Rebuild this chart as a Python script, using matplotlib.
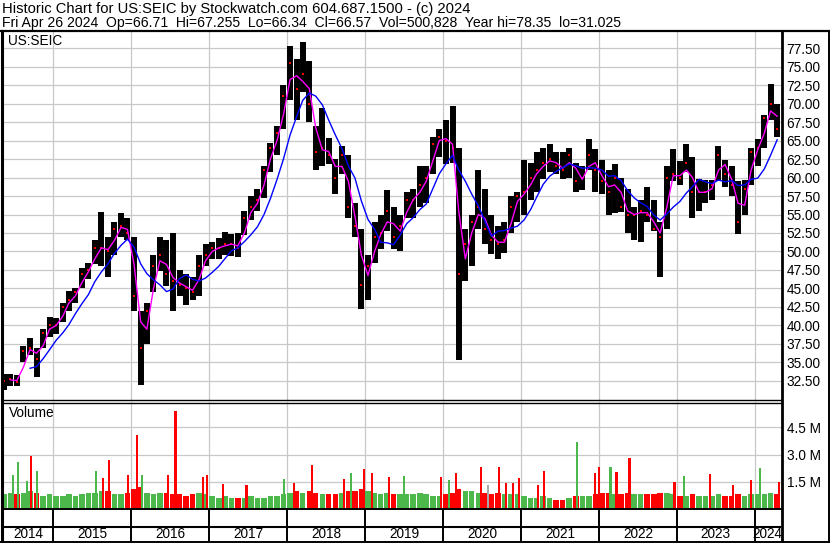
import matplotlib
matplotlib.use("Agg")
import matplotlib.pyplot as plt
from matplotlib.lines import Line2D
import numpy as np
import pandas as pd

# monthly price ranges, May 2014 .. Apr 2024
hi = [33.5, 33.5, 33.3, 37.2, 38.3, 37.0, 39.5, 41.2,
      41.0, 43.0, 44.7, 45.0, 47.8, 48.5, 51.5, 55.3, 52.0, 54.0, 55.2, 54.5,
      52.0, 42.0, 43.0, 49.5, 52.0, 51.5, 52.5, 47.5, 47.0, 46.5, 49.5, 51.0,
      51.3, 51.8, 52.7, 52.4, 52.5, 55.5, 57.5, 58.5, 61.5, 64.6, 67.0, 72.5,
      77.8, 76.0, 78.35, 75.8, 67.0, 69.4, 65.3, 62.5, 64.3, 63.0, 56.5, 53.0,
      49.5, 54.0, 55.0, 58.3, 56.0, 55.0, 58.0, 58.5, 61.5, 61.5, 65.5, 66.5,
      67.8, 69.6, 64.0, 53.0, 55.0, 61.0, 58.5, 55.0, 53.5, 54.0, 57.5, 58.0,
      62.4, 62.0, 63.5, 64.0, 64.5, 63.5, 63.5, 64.0, 62.0, 61.5, 65.2, 63.8,
      62.3, 61.0, 61.8, 60.0, 58.5, 56.0, 57.0, 58.7, 57.0, 54.0, 61.5, 63.8,
      62.2, 64.5, 62.8, 59.8, 59.6, 59.6, 64.3, 62.3, 61.5, 59.5, 59.7, 64.0,
      65.2, 68.5, 72.7, 70.0]
lo = [31.3, 31.8, 31.8, 35.0, 36.0, 33.0, 37.0, 38.5,
      38.8, 40.5, 42.0, 43.0, 45.0, 46.3, 48.3, 48.0, 46.5, 49.5, 52.0, 51.5,
      42.0, 32.0, 37.5, 44.5, 47.3, 45.3, 42.0, 44.0, 42.8, 43.5, 44.0, 48.0,
      49.0, 49.0, 49.5, 49.4, 49.3, 52.2, 54.2, 55.5, 57.2, 60.8, 63.0, 66.5,
      70.5, 67.8, 71.5, 67.5, 61.0, 61.5, 61.8, 57.8, 60.5, 54.5, 52.0, 42.2,
      43.5, 48.5, 50.3, 52.8, 50.3, 50.0, 54.5, 54.5, 56.0, 56.5, 60.5, 62.8,
      61.8, 62.0, 35.3, 46.0, 48.0, 53.0, 51.0, 49.7, 49.0, 49.8, 52.5, 54.0,
      55.0, 57.0, 58.0, 59.8, 60.7, 60.5, 59.8, 60.0, 58.0, 58.3, 61.0, 58.0,
      57.8, 55.0, 55.2, 55.3, 52.5, 51.5, 51.3, 54.0, 52.8, 46.5, 53.0, 59.5,
      59.0, 60.8, 54.5, 55.5, 56.5, 57.0, 59.5, 58.7, 57.5, 52.3, 55.0, 59.0,
      61.5, 64.0, 67.8, 65.5]
cl = [32.5, 32.8, 32.3, 36.5, 37.0, 35.5, 39.0, 40.0,
      40.0, 42.5, 43.5, 44.5, 47.0, 47.5, 50.5, 50.5, 50.0, 53.0, 53.5, 52.5,
      44.0, 37.0, 42.0, 48.0, 49.5, 47.0, 46.0, 45.5, 45.0, 44.5, 48.0, 49.5,
      50.5, 50.5, 51.0, 51.0, 50.5, 54.5, 56.0, 57.0, 61.0, 64.0, 66.0, 71.0,
      75.5, 72.0, 74.0, 70.0, 63.5, 64.0, 63.0, 60.0, 63.0, 56.0, 53.5, 45.5,
      48.0, 52.0, 52.5, 55.5, 52.0, 53.5, 57.0, 57.0, 59.0, 60.0, 64.5, 65.5,
      65.0, 64.0, 47.0, 51.0, 54.0, 56.0, 53.0, 51.5, 51.0, 51.5, 56.0, 57.5,
      58.0, 60.0, 61.0, 62.0, 62.5, 61.5, 61.0, 63.0, 59.5, 60.0, 63.0, 61.0,
      59.5, 58.0, 60.0, 56.0, 55.0, 55.0, 55.5, 55.0, 53.0, 52.0, 60.0, 60.5,
      60.0, 62.0, 58.0, 58.0, 58.0, 59.0, 63.0, 60.5, 59.0, 54.0, 58.5, 63.5,
      64.0, 68.0, 70.0, 66.57]

# typical weekly volume per month (millions)
vol = [0.8, 0.9, 0.8, 0.9, 1.0, 0.9, 0.7, 0.8,
       0.7, 0.7, 0.8, 0.7, 0.8, 0.9, 0.9, 1.0, 1.0, 0.8, 0.8, 0.9,
       1.1, 1.2, 0.9, 0.8, 0.9, 0.9, 0.8, 0.8, 0.7, 0.8, 0.9, 0.8,
       0.7, 0.6, 0.7, 0.6, 0.6, 0.6, 0.7, 0.6, 0.6, 0.7, 0.7, 0.8,
       0.9, 1.0, 0.9, 1.0, 0.9, 0.8, 0.8, 0.8, 0.9, 1.0, 1.0, 1.1,
       1.0, 0.9, 0.8, 0.9, 0.8, 0.8, 0.8, 0.8, 0.9, 0.8, 0.7, 0.7,
       0.8, 0.9, 1.1, 1.0, 1.0, 0.9, 0.9, 0.8, 0.9, 0.8, 0.8, 0.8,
       0.7, 0.6, 0.6, 0.7, 0.6, 0.5, 0.5, 0.6, 0.7, 0.7, 0.7, 0.8,
       0.9, 0.9, 0.8, 0.8, 0.9, 0.8, 0.8, 0.8, 0.8, 0.9, 0.9, 0.8,
       0.7, 0.7, 0.8, 0.7, 0.7, 0.7, 0.8, 0.7, 0.7, 0.8, 0.7, 0.8,
       0.8, 0.8, 0.9, 0.8]

# the heavy volume weeks
spike_dates = ["2014-06-27", "2014-07-21", "2014-09-01", "2014-09-20", "2014-10-18",
               "2015-07-22", "2015-08-24", "2015-09-21", "2015-12-19", "2016-01-30",
               "2016-02-22", "2016-06-24", "2016-07-27", "2016-12-05", "2016-12-20",
               "2017-03-05", "2017-06-25", "2017-12-16", "2018-02-01", "2018-04-27",
               "2018-09-24", "2018-10-27", "2018-12-27", "2019-02-03", "2019-04-23",
               "2019-07-03", "2019-12-23", "2020-01-29", "2020-03-02", "2020-06-28",
               "2020-07-31", "2020-09-20", "2020-10-23", "2020-11-25", "2020-12-23",
               "2021-03-22", "2021-04-20", "2021-09-22", "2021-12-15", "2022-01-03",
               "2022-02-24", "2022-03-24", "2022-05-24", "2022-12-21", "2023-02-02",
               "2023-06-04", "2023-09-20", "2023-12-13", "2024-01-24", "2024-04-23"]
spike_vols = [1.9, 2.6, 1.55, 2.95, 2.1,
              2.1, 1.7, 2.7, 1.9, 4.1,
              1.85, 1.85, 5.4, 1.75, 1.9,
              1.4, 1.35, 1.65, 1.45, 2.4,
              1.65, 2.0, 2.2, 2.0, 1.75,
              1.8, 1.75, 1.6, 2.0, 2.3,
              1.3, 2.3, 1.45, 1.45, 1.7,
              1.35, 2.1, 3.7, 2.0, 2.3,
              2.3, 2.05, 2.8, 1.5, 1.8,
              1.95, 1.35, 1.6, 2.25, 1.5]
spike_up = "gggrg grrrr grrrr rrgrr rgrrr grgrr xrrrr rrgrr grrrg rrrgr".replace(" ", "")

title1 = "Historic Chart for US:SEIC by Stockwatch.com 604.687.1500 - (c) 2024"
title2 = ("Fri Apr 26 2024  Op=66.71  Hi=67.255  Lo=66.34  Cl=66.57  "
          "Vol=500,828  Year hi=78.35  lo=31.025")

plt.rcParams["font.family"] = "Liberation Sans"
plt.rcParams["font.size"] = 9.8

W, H = 830, 543
fig = plt.figure(figsize=(W / 100, H / 100), dpi=100)


def box(x0, y0, x1, y1):
    return [x0 / W, 1 - y1 / H, (x1 - x0) / W, (y1 - y0) / H]


def hline(x0, x1, y, lw):
    fig.add_artist(Line2D([x0 / W, x1 / W], [1 - y / H, 1 - y / H],
                          transform=fig.transFigure, color="black", lw=lw))


def vline(x, y0, y1, lw):
    fig.add_artist(Line2D([x / W, x / W], [1 - y0 / H, 1 - y1 / H],
                          transform=fig.transFigure, color="black", lw=lw))


ax_p = fig.add_axes(box(3, 31, 781, 400))
ax_v = fig.add_axes(box(3, 402, 781, 509), sharex=ax_p)
ax_d = fig.add_axes(box(3, 509, 781, 541), sharex=ax_p)

months = pd.date_range("2014-05-01", periods=len(cl), freq="MS") + pd.Timedelta(days=14)
x0, x1 = pd.Timestamp("2014-05-11"), pd.Timestamp("2024-05-03")
years = pd.date_range("2015-01-01", "2024-01-01", freq="YS")
grid_c = "#c8c8c8"

# price panel
close = pd.Series(cl)
ax_p.vlines(months, lo, hi, color="black", linewidth=4.3, capstyle="butt")
ax_p.plot(months, cl, "s", color="red", markersize=2.0, markeredgewidth=0)
ax_p.plot(months, close.rolling(2).mean(), color="#ff00ff", lw=1.0)
ax_p.plot(months, close.rolling(6, min_periods=5).mean(), color="#0000ff", lw=1.0)
ax_p.set_ylim(29.93, 79.8)
ax_p.set_yticks(np.arange(32.5, 78.0, 2.5))
ax_p.yaxis.set_major_formatter(plt.FuncFormatter(lambda v, p: f"{v:.2f}"))

# volume panel
up = [True] + [cl[i] >= cl[i - 1] for i in range(1, len(cl))]
vcol = ["#4cb84c" if u else "#ff0000" for u in up]
ax_v.bar(months, vol, width=26, color=vcol, linewidth=0)
scol = {"g": "#4cb84c", "r": "#ff0000", "x": "#a8a8a8"}
ax_v.bar(pd.to_datetime(spike_dates), spike_vols, width=10,
         color=[scol[c] for c in spike_up], linewidth=0)
ax_v.set_ylim(0, 5.9)
ax_v.set_yticks([1.5, 3.0, 4.5])
ax_v.set_yticklabels(["1.5 M", "3.0 M", "4.5 M"])

for ax in (ax_p, ax_v):
    ax.set_xticks(years)
    ax.grid(True, color=grid_c, lw=0.9)
    ax.set_axisbelow(True)
    ax.tick_params(axis="x", length=0, labelbottom=False)
    ax.tick_params(axis="y", length=0, left=False, labelleft=False,
                   right=True, labelright=True, pad=4)
    for s in ax.spines.values():
        s.set_visible(False)

ax_p.set_xlim(x0, x1)

# date strip
ax_d.set_ylim(0, 1)
ax_d.axis("off")
ax_d.vlines(years, 0, 1, color="black", lw=1.4)
ax_d.axhline(0.44, color="black", lw=1.5)
for yr in range(2014, 2025):
    a = max(pd.Timestamp(f"{yr}-01-01"), x0)
    b = min(pd.Timestamp(f"{yr + 1}-01-01"), x1)
    ax_d.text(a + (b - a) / 2, 0.21, str(yr), ha="center", va="center")

# frame
hline(0, 830, 31, 1.6)
hline(3, 781, 400, 1.0)
hline(3, 781, 402.5, 1.0)
hline(3, 781, 509, 1.4)
hline(0, 830, 541.5, 1.4)
vline(1.5, 31, 542, 2.2)
vline(781.5, 31, 542, 2.0)
vline(828.5, 31, 542, 1.4)

fig.text(2 / W, 1 - 9 / H, title1, ha="left", va="center", fontsize=10.6)
fig.text(2 / W, 1 - 23 / H, title2, ha="left", va="center", fontsize=10.1)
fig.text(8 / W, 1 - 41 / H, "US:SEIC", ha="left", va="center")
fig.text(9 / W, 1 - 413 / H, "Volume", ha="left", va="center")

fig.savefig("out.png", dpi=100)
